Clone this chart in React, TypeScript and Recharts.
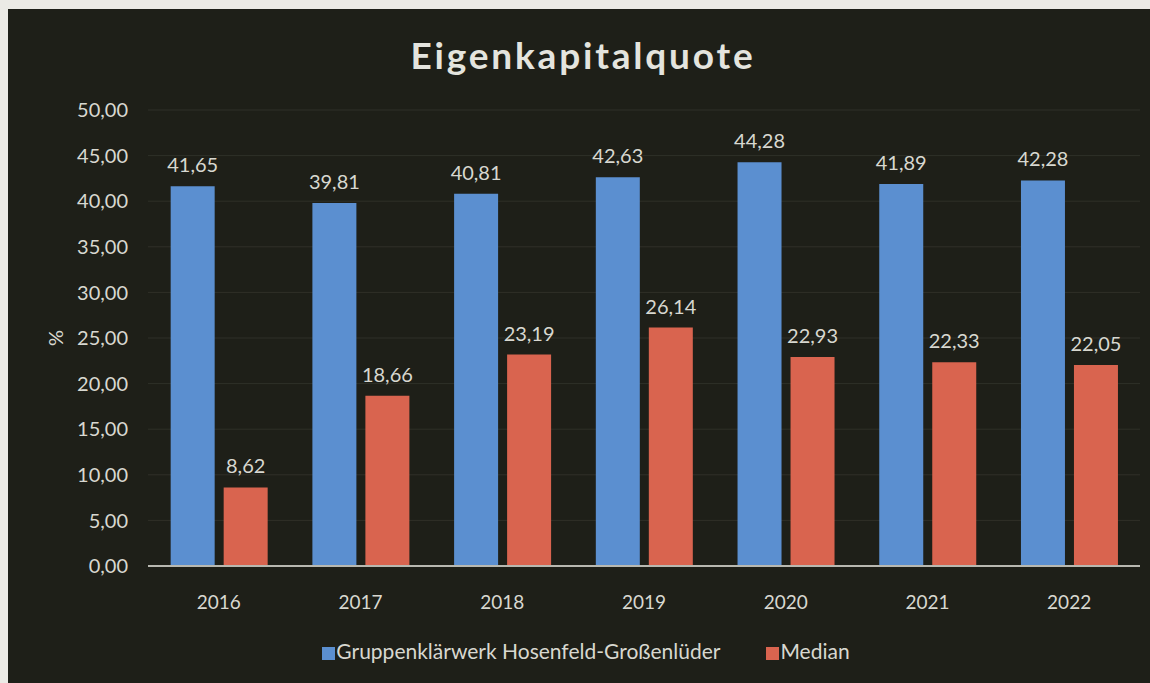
import React from 'react'
import {
  BarChart,
  Bar,
  XAxis,
  YAxis,
  CartesianGrid,
  Legend,
  LabelList,
  Label,
} from 'recharts'

const years = ['2016', '2017', '2018', '2019', '2020', '2021', '2022']
const werkValues = [41.65, 39.81, 40.81, 42.63, 44.28, 41.89, 42.28]
const medianValues = [8.62, 18.66, 23.19, 26.14, 22.93, 22.33, 22.05]
const yTicks = [0, 5, 10, 15, 20, 25, 30, 35, 40, 45, 50]

const werkName = 'Gruppenklärwerk Hosenfeld-Großenlüder'
const medianName = 'Median'

const data = years.map((year, i) => ({
  year,
  werk: werkValues[i],
  median: medianValues[i],
}))

const txt = '#d8d8d0'
const font = 'Lato, "Open Sans", sans-serif'

const fmt = (v: any) => Number(v).toFixed(2).replace('.', ',')

const PercentLabel = (props: any) => {
  const { viewBox } = props
  const cx = viewBox.x + 47
  const cy = viewBox.y + viewBox.height / 2
  return (
    <text
      x={cx}
      y={cy}
      transform={`rotate(-90, ${cx}, ${cy})`}
      textAnchor="middle"
      dominantBaseline="central"
      fill={txt}
      fontSize={20}
      fontFamily={font}
    >
      %
    </text>
  )
}

const App = () => {
  return (
    <div
      style={{
        position: 'absolute',
        left: 0,
        top: 0,
        width: 1150,
        height: 683,
        background: '#ebeae5',
        overflow: 'hidden',
      }}
    >
      <div
        style={{
          position: 'absolute',
          left: 8,
          top: 9,
          width: 1142,
          height: 674,
          background: '#1e1f18',
        }}
      >
        <div
          style={{
            position: 'absolute',
            left: 0,
            top: 23,
            width: 1150,
            textAlign: 'center',
            color: '#e4e4de',
            fontFamily: font,
            fontWeight: 700,
            fontSize: 37,
            letterSpacing: 2.8,
          }}
        >
          Eigenkapitalquote
        </div>
        <BarChart
          width={1142}
          height={674}
          data={data}
          margin={{ top: 101, right: 10, left: 0, bottom: 47 }}
          barCategoryGap="16%"
          barGap={9}
          style={{ position: 'absolute', left: 0, top: 0, fontFamily: font }}
        >
          <CartesianGrid vertical={false} stroke="#2f3028" />
          <XAxis
            dataKey="year"
            axisLine={{ stroke: '#b8b8b0', strokeWidth: 2 }}
            tickLine={false}
            tick={{ fill: txt, fontSize: 19 }}
            tickMargin={24}
            height={45}
          />
          <YAxis
            width={140}
            domain={[0, 50]}
            ticks={yTicks}
            axisLine={false}
            tickLine={false}
            tickFormatter={fmt}
            tick={{ fill: txt, fontSize: 20 }}
            tickMargin={14}
            interval={0}
          >
            <Label content={<PercentLabel />} />
          </YAxis>
          <Legend
            verticalAlign="bottom"
            iconType="square"
            iconSize={13}
            wrapperStyle={{ fontSize: 21, color: txt, bottom: 20, paddingLeft: 70, boxSizing: 'border-box' }}
            formatter={(value: any) => (
              <span style={{ color: txt, marginLeft: -3, marginRight: 36 }}>{value}</span>
            )}
          />
          <Bar dataKey="werk" name={werkName} fill="#5b8fd0" isAnimationActive={false}>
            <LabelList dataKey="werk" position="top" offset={14} formatter={fmt} fill={txt} fontSize={20} />
          </Bar>
          <Bar dataKey="median" name={medianName} fill="#d9644f" isAnimationActive={false}>
            <LabelList dataKey="median" position="top" offset={14} formatter={fmt} fill={txt} fontSize={20} />
          </Bar>
        </BarChart>
      </div>
    </div>
  )
}

export default App
